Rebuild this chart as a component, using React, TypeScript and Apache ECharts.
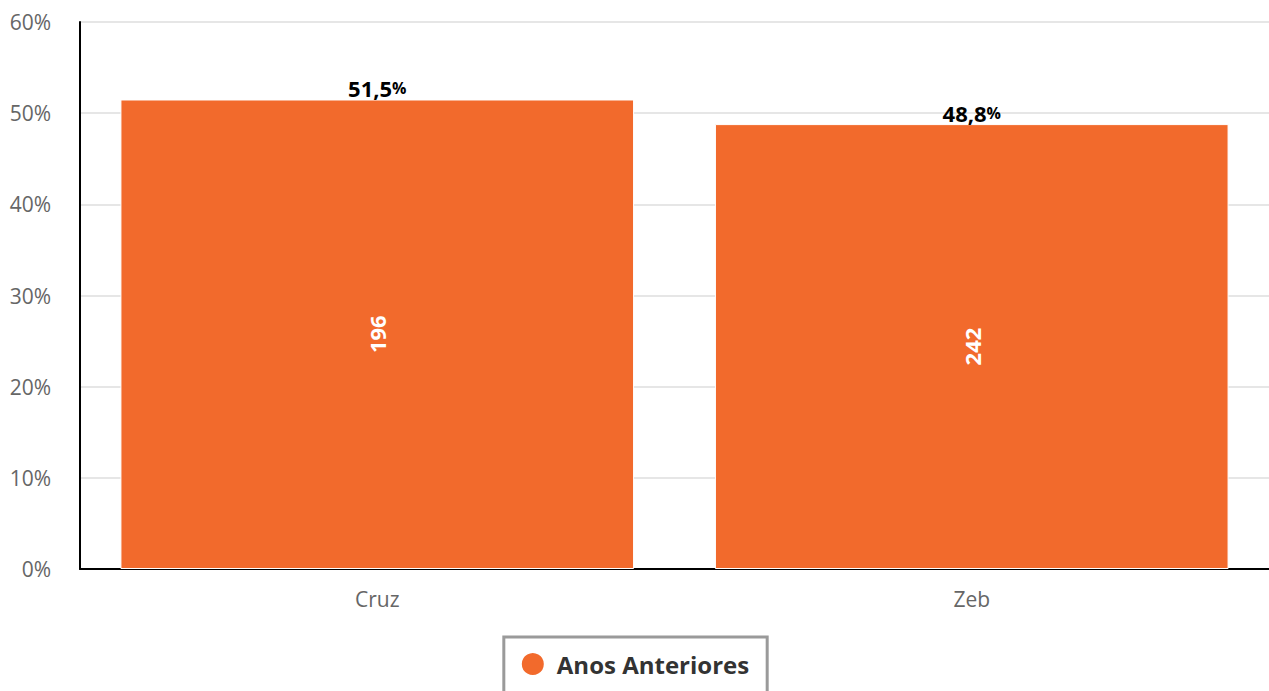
import React, { useEffect, useRef } from "react";
import * as echarts from "echarts";

const categories = ["Cruz", "Zeb"];
const percentValues = [51.5, 48.8];
const countValues = [196, 242];
const percentLabels = ["51,5", "48,8"];
const seriesName = "Anos Anteriores";
const yTicks = { min: 0, max: 60, interval: 10 };

const FONT = "'Open Sans', sans-serif";

export default function App() {
  const ref = useRef<HTMLDivElement>(null);
  useEffect(() => {
    if (!ref.current) return;
    const chart = echarts.init(ref.current, null, { renderer: "svg" });
    chart.setOption({
      animation: false,
      textStyle: { fontFamily: FONT },
      grid: { left: 80, right: 0, top: 22, bottom: 122, containLabel: false },
      legend: {
        data: [seriesName],
        left: "center",
        top: 637,
        icon: "circle",
        itemWidth: 38,
        itemHeight: 24,
        padding: [14, 18, 30, 16],
        borderColor: "#9a9a9a",
        borderWidth: 3,
        borderRadius: 0,
        textStyle: { fontFamily: FONT, fontSize: 24, fontWeight: "bold", color: "#333333" },
      },
      xAxis: {
        type: "category",
        data: categories,
        axisLine: { lineStyle: { color: "#000", width: 2 } },
        axisTick: { show: false },
        axisLabel: { color: "#666666", fontSize: 21, margin: 19, fontFamily: FONT },
      },
      yAxis: {
        type: "value",
        min: yTicks.min,
        max: yTicks.max,
        interval: yTicks.interval,
        axisLine: { show: true, lineStyle: { color: "#000", width: 2 } },
        axisTick: { show: false },
        splitLine: { lineStyle: { color: "#e6e6e6", width: 2 } },
        axisLabel: { color: "#666666", fontSize: 21, margin: 29, formatter: "{value}%", fontFamily: FONT },
      },
      series: [
        {
          name: seriesName,
          type: "bar",
          data: percentValues.map((v, i) => ({ value: v, count: countValues[i] })),
          barCategoryGap: "13.6%",
          itemStyle: { color: "#F26A2C", borderColor: "#ffffff", borderWidth: 1 },
          label: {
            show: true,
            position: "inside",
            rotate: 90,
            color: "#ffffff",
            fontSize: 22,
            fontWeight: "bold",
            fontFamily: FONT,
            formatter: (p: any) => String(countValues[p.dataIndex]),
          },
        },
        {
          name: "pct",
          type: "scatter",
          data: percentValues,
          symbolSize: 0,
          silent: true,
          itemStyle: { opacity: 1 },
          label: {
            show: true,
            position: "top",
            distance: 0,
            color: "#000000",
            fontWeight: "bold",
            formatter: (p: any) => `{a|${percentLabels[p.dataIndex]}}{b|%}`,
            rich: {
              a: { fontSize: 22, fontWeight: "bold", color: "#000000", fontFamily: FONT },
              b: { fontSize: 16, fontWeight: "bold", color: "#000000", fontFamily: FONT },
            },
          },
        },
      ],
    });
    return () => chart.dispose();
  }, []);
  return (
    <div
      ref={ref}
      style={{ position: "fixed", left: 0, top: 0, width: 1269, height: 691, background: "#fff" }}
    />
  );
}
